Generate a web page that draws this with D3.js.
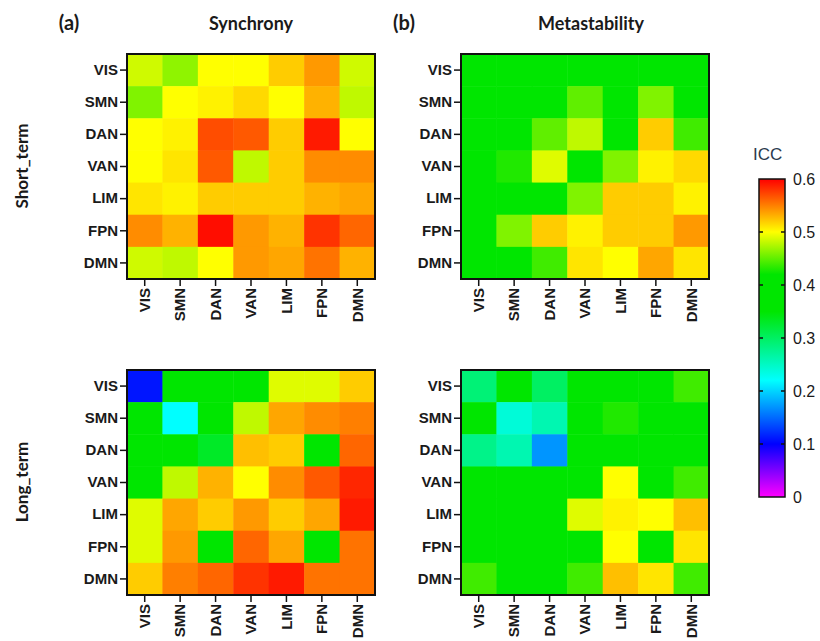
<!DOCTYPE html>
<html>
<head>
<meta charset="utf-8">
<script src="https://cdn.jsdelivr.net/npm/d3@7"></script>
<style>
body { margin: 0; background: #fff; }
text { fill: #1a1a1a; }
</style>
</head>
<body>
<svg id="chart" width="820" height="641"></svg>
<script>
var networks = ["VIS", "SMN", "DAN", "VAN", "LIM", "FPN", "DMN"];

// ICC values, rows top->bottom, columns left->right
var synchShort = [
  [0.485, 0.465, 0.50, 0.50, 0.52, 0.54, 0.485],
  [0.46, 0.50, 0.505, 0.515, 0.50, 0.53, 0.48],
  [0.50, 0.505, 0.57, 0.565, 0.52, 0.59, 0.50],
  [0.50, 0.51, 0.565, 0.48, 0.52, 0.545, 0.545],
  [0.51, 0.505, 0.52, 0.52, 0.52, 0.53, 0.535],
  [0.545, 0.53, 0.595, 0.54, 0.53, 0.58, 0.56],
  [0.485, 0.48, 0.50, 0.54, 0.535, 0.555, 0.53]
];
var metaShort = [
  [0.40, 0.40, 0.40, 0.40, 0.40, 0.40, 0.40],
  [0.40, 0.40, 0.40, 0.45, 0.40, 0.46, 0.40],
  [0.40, 0.40, 0.45, 0.48, 0.40, 0.52, 0.44],
  [0.40, 0.43, 0.49, 0.40, 0.46, 0.505, 0.515],
  [0.40, 0.40, 0.40, 0.46, 0.52, 0.52, 0.505],
  [0.40, 0.46, 0.52, 0.505, 0.52, 0.52, 0.54],
  [0.40, 0.40, 0.44, 0.51, 0.50, 0.535, 0.51]
];
var synchLong = [
  [0.11, 0.40, 0.40, 0.42, 0.49, 0.49, 0.52],
  [0.40, 0.22, 0.40, 0.48, 0.535, 0.545, 0.55],
  [0.40, 0.40, 0.33, 0.525, 0.52, 0.40, 0.56],
  [0.42, 0.48, 0.53, 0.50, 0.545, 0.565, 0.585],
  [0.49, 0.535, 0.52, 0.54, 0.52, 0.535, 0.59],
  [0.49, 0.54, 0.40, 0.56, 0.535, 0.40, 0.555],
  [0.52, 0.55, 0.56, 0.58, 0.59, 0.555, 0.555]
];
var metaLong = [
  [0.29, 0.40, 0.30, 0.40, 0.40, 0.40, 0.44],
  [0.40, 0.24, 0.26, 0.40, 0.43, 0.40, 0.40],
  [0.28, 0.26, 0.17, 0.40, 0.40, 0.40, 0.40],
  [0.40, 0.40, 0.40, 0.40, 0.50, 0.40, 0.44],
  [0.40, 0.42, 0.40, 0.49, 0.505, 0.50, 0.525],
  [0.40, 0.40, 0.40, 0.40, 0.50, 0.40, 0.51],
  [0.44, 0.40, 0.40, 0.44, 0.525, 0.51, 0.44]
];

var colorStops = [0, 0.1, 0.22, 0.35, 0.42, 0.5, 0.6];
var colorRange = ["#ff00ff", "#0000ff", "#00ffff", "#00e600", "#00e600", "#ffff00", "#ff0000"];
var iccTicks = [0, 0.1, 0.2, 0.3, 0.4, 0.5, 0.6];

var color = d3.scaleLinear().domain(colorStops).range(colorRange).clamp(true);

var svg = d3.select("#chart");
var W = 248, H = 225;

var panels = [
  { data: synchShort, x: 127, y: 54 },
  { data: metaShort, x: 461, y: 54 },
  { data: synchLong, x: 127, y: 370 },
  { data: metaLong, x: 461, y: 370 }
];

panels.forEach(function (p) {
  var g = svg.append("g").attr("transform", "translate(" + p.x + "," + p.y + ")");
  var x = d3.scaleBand().domain(networks).range([0, W]);
  var y = d3.scaleBand().domain(networks).range([0, H]);

  var cells = [];
  p.data.forEach(function (row, i) {
    row.forEach(function (v, j) {
      cells.push({ r: networks[i], c: networks[j], v: v });
    });
  });

  g.selectAll("rect.cell")
    .data(cells)
    .enter().append("rect")
      .attr("class", "cell")
      .attr("x", function (d) { return x(d.c); })
      .attr("y", function (d) { return y(d.r); })
      .attr("width", x.bandwidth() + 0.5)
      .attr("height", y.bandwidth() + 0.5)
      .attr("fill", function (d) { return color(d.v); });

  g.append("rect")
    .attr("width", W).attr("height", H)
    .attr("fill", "none").attr("stroke", "#111").attr("stroke-width", 2);

  var ya = g.append("g")
    .call(d3.axisLeft(y).tickSize(7).tickPadding(2));
  ya.select(".domain").remove();

  var xa = g.append("g")
    .attr("transform", "translate(0," + H + ")")
    .call(d3.axisBottom(x).tickSize(7).tickPadding(2));
  xa.select(".domain").remove();
  xa.selectAll("text")
    .attr("transform", "rotate(-90)")
    .attr("text-anchor", "end")
    .attr("x", -9)
    .attr("y", 0)
    .attr("dy", "0.35em");

  g.selectAll(".tick line").attr("stroke", "#111").attr("stroke-width", 1.5);
  g.selectAll(".tick text")
    .style("font-family", "'Liberation Sans', Arial, sans-serif")
    .style("font-weight", "bold")
    .style("font-size", "15px")
    .attr("fill", "#1a1a1a");
});

// titles
var titleFont = "Lato, 'Open Sans', sans-serif";
function label(txt, x, y, size, rot) {
  var t = svg.append("text")
    .attr("x", x).attr("y", y)
    .attr("text-anchor", "middle")
    .style("font-family", titleFont)
    .style("font-weight", "bold")
    .style("font-size", size + "px")
    .text(txt);
  if (rot) t.attr("transform", "rotate(-90," + x + "," + y + ")");
}
label("(a)", 69, 30, 20);
label("Synchrony", 251, 30, 18);
label("(b)", 404, 30, 20);
label("Metastability", 591, 30, 18);
label("Short_term", 28, 166, 17, true);
label("Long_term", 28, 482, 17, true);

// colour bar
var cbX = 759, cbY = 179, cbW = 26, cbH = 318;
var cbScale = d3.scaleLinear().domain([0, 0.6]).range([cbY + cbH, cbY]);

var defs = svg.append("defs");
var grad = defs.append("linearGradient")
  .attr("id", "iccGrad")
  .attr("x1", "0").attr("y1", "1").attr("x2", "0").attr("y2", "0");
grad.selectAll("stop")
  .data(colorStops)
  .enter().append("stop")
    .attr("offset", function (d) { return d / 0.6; })
    .attr("stop-color", function (d, i) { return colorRange[i]; });

svg.append("rect")
  .attr("x", cbX).attr("y", cbY).attr("width", cbW).attr("height", cbH)
  .attr("fill", "url(#iccGrad)")
  .attr("stroke", "#111").attr("stroke-width", 1.5);

var cbTicks = svg.append("g").selectAll("g")
  .data(iccTicks)
  .enter().append("g");
cbTicks.filter(function (d) { return d > 0 && d < 0.6; }).append("line")
  .attr("x1", cbX).attr("x2", cbX + 4)
  .attr("y1", function (d) { return cbScale(d); })
  .attr("y2", function (d) { return cbScale(d); })
  .attr("stroke", "#111").attr("stroke-width", 1.5);
cbTicks.filter(function (d) { return d > 0 && d < 0.6; }).append("line")
  .attr("x1", cbX + cbW - 4).attr("x2", cbX + cbW)
  .attr("y1", function (d) { return cbScale(d); })
  .attr("y2", function (d) { return cbScale(d); })
  .attr("stroke", "#111").attr("stroke-width", 1.5);
cbTicks.append("text")
  .attr("x", cbX + cbW + 8)
  .attr("y", function (d) { return cbScale(d); })
  .attr("dy", "0.35em")
  .style("font-family", "'Liberation Sans', Arial, sans-serif")
  .style("font-size", "16px")
  .text(function (d) { return d === 0 ? "0" : d3.format(".1f")(d); });

svg.append("text")
  .attr("x", 753).attr("y", 160)
  .style("font-family", "'Liberation Sans', Arial, sans-serif")
  .style("font-size", "17px")
  .style("fill", "#2b3a4e")
  .text("ICC");
</script>
</body>
</html>
